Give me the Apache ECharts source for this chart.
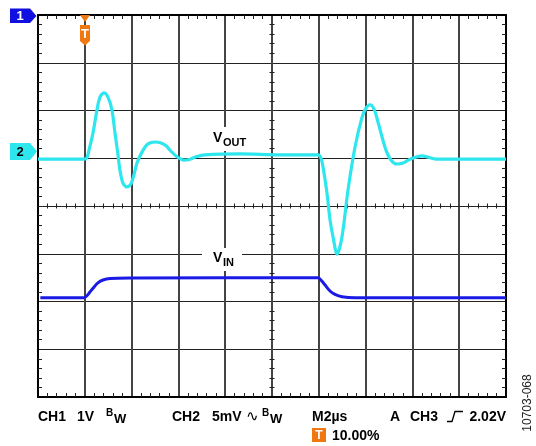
<!DOCTYPE html>
<html>
<head>
<meta charset="utf-8">
<script src="https://cdn.jsdelivr.net/npm/echarts@6/dist/echarts.min.js"></script>
<style>
html, body { margin: 0; padding: 0; background: #fff; }
#scope { width: 536px; height: 446px; }
</style>
</head>
<body>
<div id="scope"></div>
<script>
// time in µs (M2µs -> 2 µs/div), level in divisions from screen centre
const voutT = [-10, -8.03, -7.91, -7.82, -7.65, -7.48, -7.35, -7.18, -7.01, -6.84, -6.71, -6.58, -6.50, -6.37, -6.20, -6.03, -5.90, -5.77, -5.51, -5.30, -5.00, -4.74, -4.53, -4.36, -4.06, -3.76, -3.50, -3.25, -2.86, -1.37, 0.34, 1.97, 2.09, 2.18, 2.35, 2.48, 2.61, 2.78, 2.99, 3.25, 3.55, 3.85, 4.02, 4.19, 4.36, 4.53, 4.70, 4.87, 5.09, 5.34, 5.60, 5.90, 6.41, 7.05, 10]
const voutV = [0.98, 0.98, 1.01, 1.17, 1.53, 2.01, 2.28, 2.37, 2.28, 2.01, 1.53, 1.07, 0.75, 0.48, 0.40, 0.46, 0.65, 0.90, 1.17, 1.30, 1.34, 1.32, 1.26, 1.17, 1.03, 0.96, 0.98, 1.03, 1.07, 1.09, 1.07, 1.07, 1.01, 0.82, 0.27, -0.29, -0.65, -1.01, -0.65, 0.34, 1.24, 1.86, 2.05, 2.12, 2.03, 1.76, 1.45, 1.17, 0.96, 0.88, 0.90, 0.98, 1.05, 0.98, 0.98]
const vinT = [-9.9, -8.03, -7.91, -7.78, -7.61, -7.44, -7.22, -6.92, -6.07, 1.97, 2.09, 2.26, 2.48, 2.69, 2.99, 3.55, 10]
const vinV = [-1.92, -1.92, -1.88, -1.80, -1.70, -1.61, -1.55, -1.52, -1.51, -1.50, -1.55, -1.65, -1.78, -1.85, -1.90, -1.92, -1.92]

const font = '"Liberation Sans", Arial, sans-serif'
const cyan = '#2de6ee'
const blue = '#1a1ae6'
const orange = '#f07810'

const zip = (t, v) => t.map((x, i) => [x, v[i]])

// border axes: ticks pointing into the screen
const xAxisAt = (pos, split) => ({
  type: 'value', min: -10, max: 10, interval: 2, position: pos,
  axisLine: { onZero: false, lineStyle: { color: '#000', width: 2 } },
  axisTick: { show: false, inside: true },
  minorTick: { show: true, splitNumber: 5, length: 4, lineStyle: { color: '#222', width: 1 } },
  axisLabel: { show: false },
  splitLine: { show: split, lineStyle: { color: '#444', width: 2 } }
})
const yAxisAt = (pos, split) => ({
  type: 'value', min: -4, max: 4, interval: 1, position: pos,
  axisLine: { onZero: false, lineStyle: { color: '#000', width: 2 } },
  axisTick: { show: false, inside: true },
  minorTick: { show: true, splitNumber: 5, length: 4, lineStyle: { color: '#222', width: 1 } },
  axisLabel: { show: false },
  splitLine: { show: split, lineStyle: { color: '#222', width: 1 } }
})
// centre cross: two axes each, ticks on both sides
const xCentre = (inside) => ({
  type: 'value', min: -10, max: 10, interval: 2, position: 'bottom',
  axisLine: { show: true, onZero: true, onZeroAxisIndex: 0, lineStyle: { color: '#222', width: 1 } },
  axisTick: { show: false, inside: inside },
  minorTick: { show: true, splitNumber: 5, length: 2.5, lineStyle: { color: '#222', width: 1 } },
  axisLabel: { show: false },
  splitLine: { show: false }
})
const yCentre = (inside) => ({
  type: 'value', min: -4, max: 4, interval: 1, position: 'left',
  axisLine: { show: true, onZero: true, onZeroAxisIndex: 0, lineStyle: { color: '#444', width: 2 } },
  axisTick: { show: false, inside: inside },
  minorTick: { show: true, splitNumber: 5, length: 2.5, lineStyle: { color: '#222', width: 1 } },
  axisLabel: { show: false },
  splitLine: { show: false }
})

const txt = (text, x, y, size, opts = {}) => ({
  type: 'text', x: x, y: y, z: opts.z || 5,
  style: {
    text: text,
    font: (opts.weight || 'bold') + ' ' + size + 'px ' + (opts.family || font),
    fill: opts.fill || '#000',
    align: opts.align || 'left', textAlign: opts.align || 'left',
    verticalAlign: 'middle', textVerticalAlign: 'middle'
  }
})
const poly = (points, fill, z) => ({ type: 'polygon', z: z || 5, shape: { points: points }, style: { fill: fill } })

const graphics = [
  // channel markers
  poly([[10, 8.5], [30, 8.5], [36.5, 16], [30, 23], [10, 23]], '#1010e0'),
  txt('1', 20, 16, 13, { fill: '#fff', align: 'center', z: 6 }),
  poly([[10, 143], [30, 143], [37, 151.5], [30, 160], [10, 160]], cyan),
  txt('2', 20, 152, 13, { align: 'center', z: 6 }),
  // trigger marker
  poly([[80, 15], [90, 15], [85, 22]], orange, 10),
  poly([[80, 25], [90, 25], [90, 41], [85, 45.5], [80, 41]], orange, 10),
  txt('T', 85, 34, 13, { fill: '#fff', align: 'center', z: 11 }),
  // trace labels
  { type: 'rect', z: 1, shape: { x: 201, y: 127, width: 48, height: 24 }, style: { fill: '#fff' } },
  txt('V', 213, 138.5, 14),
  txt('OUT', 223, 143, 11),
  { type: 'rect', z: 1, shape: { x: 202, y: 248, width: 40, height: 23 }, style: { fill: '#fff' } },
  txt('V', 213, 258.5, 14),
  txt('IN', 223, 263, 11),
  // status line
  txt('CH1', 38, 417, 14),
  txt('1V', 77, 417, 14),
  txt('B', 106, 413, 10),
  txt('W', 114, 419.5, 13),
  txt('CH2', 172, 417, 14),
  txt('5mV', 212, 417, 14),
  txt('\u223F', 246, 417, 15, { family: '"DejaVu Sans", sans-serif', weight: 'normal' }),
  txt('B', 262, 413, 10),
  txt('W', 270, 419.5, 13),
  txt('M2\u00B5s', 312, 417, 14),
  txt('A', 390, 417, 14),
  txt('CH3', 410, 417, 14),
  { type: 'polyline', z: 5, shape: { points: [[447, 421.5], [452, 421.5], [455, 411.5], [463, 411.5]] }, style: { stroke: '#000', lineWidth: 1.3, fill: null } },
  txt('2.02V', 506, 417, 14, { align: 'right' }),
  { type: 'rect', z: 5, shape: { x: 312, y: 428, width: 14, height: 14 }, style: { fill: orange } },
  txt('T', 319, 435.5, 12, { fill: '#fff', align: 'center', z: 6 }),
  txt('10.00%', 332, 436, 14),
  {
    type: 'text', x: 528, y: 403, rotation: Math.PI / 2, z: 5,
    style: {
      text: '10703-068', font: '12px ' + font, fill: '#222',
      align: 'center', textAlign: 'center', verticalAlign: 'middle', textVerticalAlign: 'middle'
    }
  }
]

const chart = echarts.init(document.getElementById('scope'))
chart.setOption({
  animation: false,
  backgroundColor: '#fff',
  grid: { left: 38, top: 15, width: 468, height: 382, containLabel: false },
  xAxis: [xAxisAt('bottom', true), xAxisAt('top', false), xCentre(true), xCentre(false)],
  yAxis: [yAxisAt('left', true), yAxisAt('right', false), yCentre(true), yCentre(false)],
  series: [
    {
      name: 'VIN', type: 'line', data: zip(vinT, vinV), showSymbol: false, smooth: 0.3,
      lineStyle: { color: blue, width: 3 }, z: 3
    },
    {
      name: 'VOUT', type: 'line', data: zip(voutT, voutV), showSymbol: false, smooth: 0.3,
      lineStyle: { color: cyan, width: 3.2 }, z: 4
    }
  ],
  graphic: graphics
})
</script>
</body>
</html>
